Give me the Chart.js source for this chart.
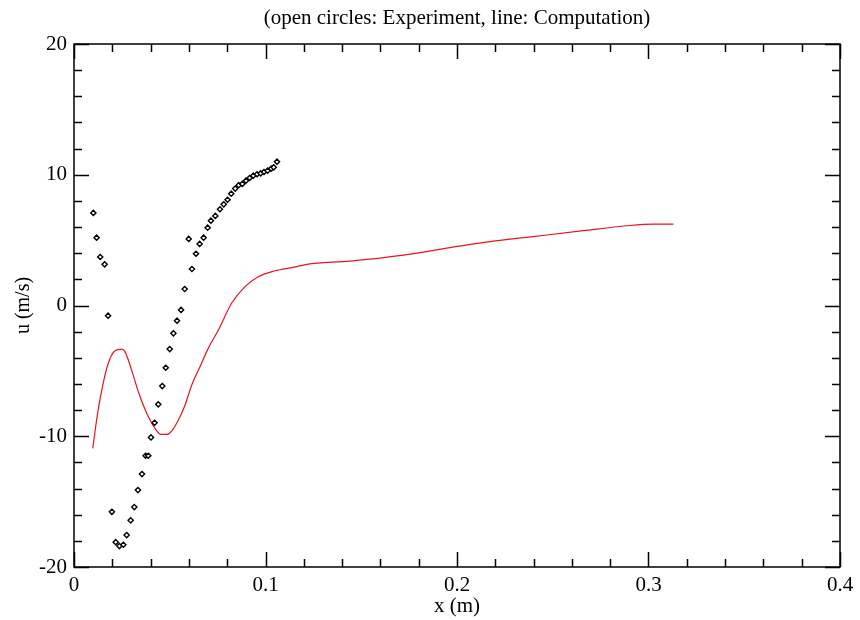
<!DOCTYPE html>
<html>
<head>
<meta charset="utf-8">
<title>u (m/s)</title>
<script src="https://cdn.jsdelivr.net/npm/chart.js@4/dist/chart.umd.min.js"></script>
<style>
    body { margin: 0; background: #fff; }
    #contenitore { width: 860px; height: 620px; }
</style>
</head>
<body>
<div id="contenitore"><canvas id="grafico" width="860" height="620"></canvas></div>
<script>
// misure sperimentali (cerchi)
var espX = [0.0101, 0.0118, 0.0137, 0.0160, 0.0178, 0.0198, 0.0218, 0.0237, 0.0258, 0.0275,
    0.0296, 0.0315, 0.0334, 0.0355, 0.0374, 0.0388, 0.0402, 0.0421, 0.0440, 0.0461,
    0.0479, 0.0500, 0.0519, 0.0538, 0.0559, 0.0578, 0.0599, 0.0616, 0.0637, 0.0656,
    0.0677, 0.0698, 0.0715, 0.0738, 0.0762, 0.0782, 0.0802, 0.0821, 0.0842, 0.0860,
    0.0879, 0.0898, 0.0917, 0.0936, 0.0956, 0.0975, 0.0992, 0.1011, 0.1030, 0.1043, 0.1060];
var espU = [7.08, 5.19, 3.71, 3.15, -0.78, -15.78, -18.10, -18.40, -18.30, -17.56,
    -16.43, -15.42, -14.12, -12.89, -11.49, -11.49, -10.09, -8.97, -7.56, -6.16,
    -4.76, -3.33, -2.13, -1.16, -0.34, 1.26, 5.09, 2.79, 3.96, 4.71,
    5.19, 5.95, 6.49, 6.85, 7.36, 7.74, 8.09, 8.55, 8.94, 9.20,
    9.30, 9.55, 9.75, 9.93, 10.04, 10.11, 10.21, 10.31, 10.47, 10.57, 11.00];

// risultato del calcolo (linea rossa)
var calcX = [0.0098, 0.0118, 0.0145, 0.0179, 0.0214, 0.0249, 0.0266, 0.0301, 0.0336, 0.0380,
    0.0423, 0.0454, 0.0484, 0.0510, 0.0545, 0.0580, 0.0615, 0.0658, 0.0701, 0.0754,
    0.0823, 0.0893, 0.0962, 0.1050, 0.1145, 0.1215, 0.1441, 0.1720, 0.1963, 0.2172,
    0.2398, 0.2660, 0.2886, 0.3025, 0.3130];
var calcU = [-10.93, -8.76, -6.47, -4.42, -3.46, -3.33, -3.53, -4.94, -6.60, -8.25,
    -9.40, -9.86, -9.86, -9.60, -8.76, -7.61, -6.08, -4.68, -3.28, -1.87,
    0.17, 1.44, 2.20, 2.66, 2.92, 3.15, 3.40, 3.86, 4.42, 4.88,
    5.27, 5.72, 6.10, 6.23, 6.23];

// tacche degli assi
var tackX = [0, 0.1, 0.2, 0.3, 0.4];
var tackY = [-20, -10, 0, 10, 20];
var minoriX = 0.02;
var minoriY = 2;

function coppie(xs, ys) {
    var out = [];
    for (var i = 0; i < xs.length; i++) {
        out.push({x: xs[i], y: ys[i]});
    }
    return out;
}

// cornice e tacche verso l'interno su tutti e quattro i lati
var cornice = {
    id: 'cornice',
    afterDatasetsDraw: function (chart) {
        var ctx = chart.ctx;
        var a = chart.chartArea;
        var sx = chart.scales.x;
        var sy = chart.scales.y;
        ctx.save();
        ctx.strokeStyle = '#000';
        ctx.lineWidth = 1.5;
        ctx.beginPath();
        var v, p, lung;
        for (v = tackX[0]; v <= tackX[tackX.length - 1] + 1e-9; v += minoriX) {
            p = Math.round(sx.getPixelForValue(v)) + 0.5;
            lung = Math.abs(v / 0.1 - Math.round(v / 0.1)) < 1e-6 ? 15 : 8;
            ctx.moveTo(p, a.bottom); ctx.lineTo(p, a.bottom - lung);
            ctx.moveTo(p, a.top); ctx.lineTo(p, a.top + lung);
        }
        for (v = tackY[0]; v <= tackY[tackY.length - 1] + 1e-9; v += minoriY) {
            p = Math.round(sy.getPixelForValue(v)) + 0.5;
            lung = (Math.round(v) % 10 === 0) ? 15 : 8;
            ctx.moveTo(a.left, p); ctx.lineTo(a.left + lung, p);
            ctx.moveTo(a.right, p); ctx.lineTo(a.right - lung, p);
        }
        ctx.stroke();
        ctx.strokeRect(a.left, a.top, a.right - a.left, a.bottom - a.top);
        ctx.restore();
    }
};

Chart.defaults.font.family = '"Liberation Serif", "Times New Roman", serif';
Chart.defaults.color = '#000';

var ctx = document.getElementById('grafico');
var grafico = new Chart(ctx, {
    type: 'scatter',
    data: {
        datasets: [{
            label: 'Experiment',
            data: coppie(espX, espU),
            pointStyle: 'rectRot',
            pointRadius: 2.6,
            pointBorderWidth: 1.4,
            pointBorderColor: '#000',
            pointBackgroundColor: '#fff',
            showLine: false
        }, {
            label: 'Computation',
            data: coppie(calcX, calcU),
            showLine: true,
            borderColor: '#e8141e',
            borderWidth: 1.2,
            pointRadius: 0,
            cubicInterpolationMode: 'monotone'
        }]
    },
    options: {
        responsive: false,
        animation: false,
        layout: { padding: { left: 0, right: 20, top: 0, bottom: 0 } },
        plugins: {
            legend: { display: false },
            tooltip: { enabled: false },
            title: {
                display: true,
                text: '(open circles: Experiment, line: Computation)',
                fullSize: false,
                color: '#000',
                font: { size: 21, weight: 'normal' },
                padding: { top: 5.4, bottom: 13.4 }
            }
        },
        scales: {
            x: {
                type: 'linear',
                min: 0,
                max: 0.4,
                grid: { display: false, drawTicks: false },
                border: { display: false },
                afterBuildTicks: function (s) {
                    s.ticks = tackX.map(function (v) { return {value: v}; });
                },
                ticks: {
                    padding: 6,
                    font: { size: 21 },
                    callback: function (v) { return String(+v.toFixed(1)); }
                },
                title: {
                    display: true,
                    text: 'x (m)',
                    font: { size: 21 },
                    padding: { top: 0, bottom: 1 }
                },
                afterFit: function (s) { s.height = 53; }
            },
            y: {
                type: 'linear',
                min: -20,
                max: 20,
                grid: { display: false, drawTicks: false },
                border: { display: false },
                afterBuildTicks: function (s) {
                    s.ticks = tackY.map(function (v) { return {value: v}; });
                },
                ticks: {
                    padding: 7,
                    font: { size: 21 },
                    callback: function (v) { return String(v); }
                },
                title: {
                    display: true,
                    text: 'u (m/s)',
                    font: { size: 20 },
                    padding: { top: 12, bottom: 0 }
                },
                afterFit: function (s) { s.width = 74; }
            }
        }
    },
    plugins: [cornice]
});
</script>
</body>
</html>
